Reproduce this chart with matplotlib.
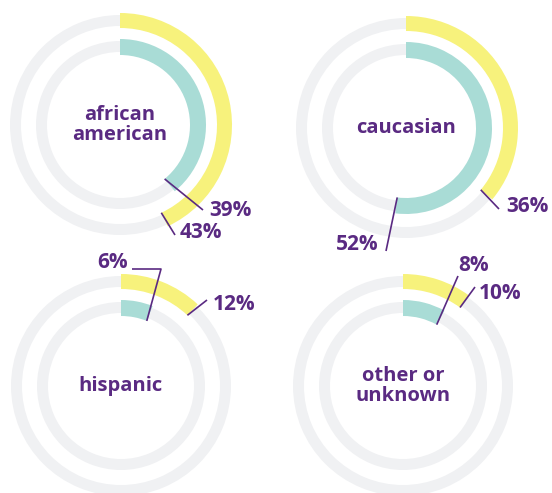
import numpy as np
import matplotlib
matplotlib.use("Agg")
import matplotlib.pyplot as plt

# data: share of each group, outer ring (yellow) and inner ring (teal)
groups = ["african\namerican", "caucasian", "hispanic", "other or\nunknown"]
outer_pct = [43, 36, 12, 10]
inner_pct = [39, 52, 6, 8]

YELLOW = "#F7F27C"
TEAL = "#A9DCD6"
GREY = "#F0F1F3"
PURPLE = "#5A2A82"

W, H = 552, 493
R_AX = 130  # radial limit of each polar axes, in pixels

# ring geometry (pixels)
OUTER_BAR = (97, 112)
OUTER_BG = (99, 110)
INNER_BAR = (70, 86)
INNER_BG = (73, 84)

# layout: chart centres, leader-line ends and label anchors (pixel coords)
centers = [(120, 125), (406, 128), (121, 386), (403, 386)]
outer_lead = [[(175, 235)], [(499, 209)], [(207, 300)], [(475, 287)]]
inner_lead = [[(203, 210)], [(386, 251)], [(161, 269), (132, 269)], [(458, 276)]]
outer_txt = [((180, 232), "left"), ((506, 206), "left"),
             ((213, 305), "left"), ((479, 293), "left")]
inner_txt = [((209, 211), "left"), ((379, 244), "right"),
             ((128, 263), "right"), ((458, 265), "left")]

plt.rcParams["font.family"] = ["Open Sans", "DejaVu Sans"]

fig = plt.figure(figsize=(W / 100, H / 100), dpi=100)


def to_polar(pt, c):
    dx, up = pt[0] - c[0], c[1] - pt[1]
    return np.arctan2(dx, up), np.hypot(dx, up)


def ring(ax, pct, bar, bg, color):
    ax.bar(0, bg[1] - bg[0], width=2 * np.pi, bottom=bg[0], align="edge",
           color=GREY, linewidth=0)
    ax.bar(0, bar[1] - bar[0], width=2 * np.pi * pct / 100, bottom=bar[0],
           align="edge", color=color, linewidth=0)


def leader(ax, pct, r0, pts, c, txt, label):
    th = [2 * np.pi * pct / 100]
    rr = [r0]
    for p in pts:
        t, r = to_polar(p, c)
        th.append(t)
        rr.append(r)
    ax.plot(th, rr, color=PURPLE, lw=1.2, clip_on=False, solid_capstyle="butt")
    t, r = to_polar(txt[0], c)
    ax.text(t, r, label, ha=txt[1], va="center", color=PURPLE,
            fontsize=15, fontweight="bold", clip_on=False)


for i, (cx, cy) in enumerate(centers):
    ax = fig.add_axes([(cx - R_AX) / W, 1 - (cy + R_AX) / H,
                       2 * R_AX / W, 2 * R_AX / H], projection="polar")
    ax.set_theta_zero_location("N")
    ax.set_theta_direction(-1)
    ax.set_ylim(0, R_AX)
    ax.axis("off")
    ax.patch.set_alpha(0)

    ring(ax, outer_pct[i], OUTER_BAR, OUTER_BG, YELLOW)
    ring(ax, inner_pct[i], INNER_BAR, INNER_BG, TEAL)

    c = (cx, cy)
    leader(ax, inner_pct[i], INNER_BAR[0], inner_lead[i], c, inner_txt[i],
           f"{inner_pct[i]}%")
    leader(ax, outer_pct[i], OUTER_BAR[0], outer_lead[i], c, outer_txt[i],
           f"{outer_pct[i]}%")

    ax.text(0, 0, groups[i], ha="center", va="center", color=PURPLE,
            fontsize=14.5, fontweight="bold", linespacing=1.0)

fig.savefig("out.png", dpi=100)
